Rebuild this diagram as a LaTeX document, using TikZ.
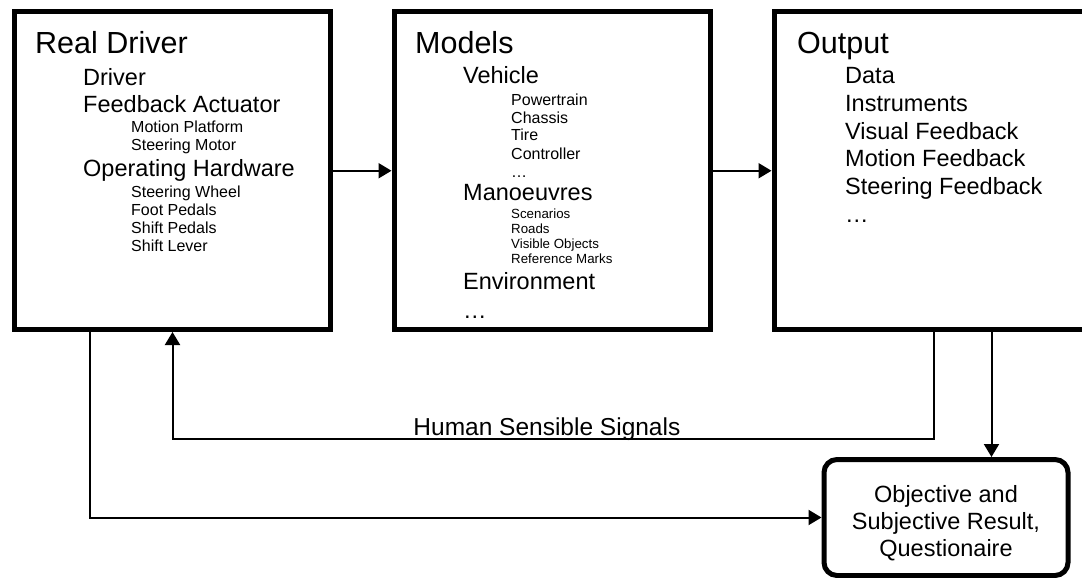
\documentclass[tikz,border=0pt]{standalone}
\usepackage{fontspec}
\setmainfont{Liberation Sans}
\usetikzlibrary{arrows.meta}

\tikzset{
  block/.style={draw, line width=5pt, minimum width=316, minimum height=317.5, inner sep=0},
  result/.style={draw, line width=5pt, rounded corners=13pt, minimum width=244, minimum height=116},
  resulttext/.style={align=center, inner sep=0, font=\fontsize{23.5}{27}\selectfont},
  conn/.style={line width=2pt, -{Triangle[length=13pt,width=15pt]}},
  head/.style={anchor=base west, inner sep=0, font=\fontsize{30.5}{36}\selectfont},
  itema/.style={anchor=base west, inner sep=0, font=\fontsize{23.5}{28}\selectfont},
  itemb/.style={anchor=base west, inner sep=0, font=\fontsize{16}{19}\selectfont},
  itemc/.style={anchor=base west, inner sep=0, font=\fontsize{13.3}{16}\selectfont},
}

\begin{document}
\begin{tikzpicture}[x=1pt, y=-1pt]
\useasboundingbox (0,0) rectangle (1082,578);

% Boxes
\node[block] (realdriver) at (172,170.75) {};
\node[block] (models) at (552,170.75) {};
\node[block] (output) at (932,170.75) {};
\node[result] (result) at (946,517.5) {};
\node[resulttext] (result-text) at ([yshift=-5.5pt]result.center) {Objective and\\Subjective Result,\\Questionaire};

% Real Driver
\node[head] (rd-title) at (35,54) {Real Driver};
\node[itema] (rd-driver) at (83,85) {Driver};
\node[itema] (rd-feedback) at (83,112) {Feedback Actuator};
\node[itemb] (rd-motion) at (131,132) {Motion Platform};
\node[itemb] (rd-motor) at (131,150) {Steering Motor};
\node[itema] (rd-hardware) at (83,176) {Operating Hardware};
\node[itemb] (rd-wheel) at (131,197) {Steering Wheel};
\node[itemb] (rd-foot) at (131,215) {Foot Pedals};
\node[itemb] (rd-shiftp) at (131,233) {Shift Pedals};
\node[itemb] (rd-lever) at (131,251) {Shift Lever};

% Models
\node[head] (md-title) at (415,54) {Models};
\node[itema] (md-vehicle) at (463,84) {Vehicle};
\node[itemb] (md-power) at (511,105) {Powertrain};
\node[itemb] (md-chassis) at (511,123) {Chassis};
\node[itemb] (md-tire) at (511,140) {Tire};
\node[itemb] (md-ctrl) at (511,159) {Controller};
\node[itemb] (md-dots1) at (511,177) {…};
\node[itema] (md-manoeuvres) at (463,200) {Manoeuvres};
\node[itemc] (md-scen) at (511,218) {Scenarios};
\node[itemc] (md-roads) at (511,233) {Roads};
\node[itemc] (md-objects) at (511,248) {Visible Objects};
\node[itemc] (md-marks) at (511,263) {Reference Marks};
\node[itema] (md-env) at (463,289) {Environment};
\node[itema] (md-dots2) at (463,318) {…};

% Output
\node[head] (op-title) at (797,54) {Output};
\node[itema] (op-data) at (845,84) {Data};
\node[itema] (op-instr) at (845,111) {Instruments};
\node[itema] (op-visual) at (845,139) {Visual Feedback};
\node[itema] (op-motion) at (845,166) {Motion Feedback};
\node[itema] (op-steer) at (845,194) {Steering Feedback};
\node[itema] (op-dots) at (845,222) {…};

% Connections
\coordinate (drvres) at ([xshift=78pt]realdriver.south west);
\coordinate (fbin) at ([xshift=161pt]realdriver.south west);
\coordinate (fbout) at ([xshift=162pt]output.south west);
\coordinate (outres) at ([xshift=220pt]output.south west);

\draw[conn] (realdriver.east) -- (models.west);
\draw[conn] (models.east) -- (output.west);
\draw[conn] (fbout) -- ++(0,107) -| (fbin)
  node[pos=0.254, anchor=base, yshift=3.5pt, inner sep=0, font=\fontsize{24.5}{29}\selectfont] (signals) {Human Sensible Signals};
\draw[conn] (outres) -- (outres |- result.north);
\draw[conn] (drvres) |- (result.west);
\end{tikzpicture}
\end{document}
